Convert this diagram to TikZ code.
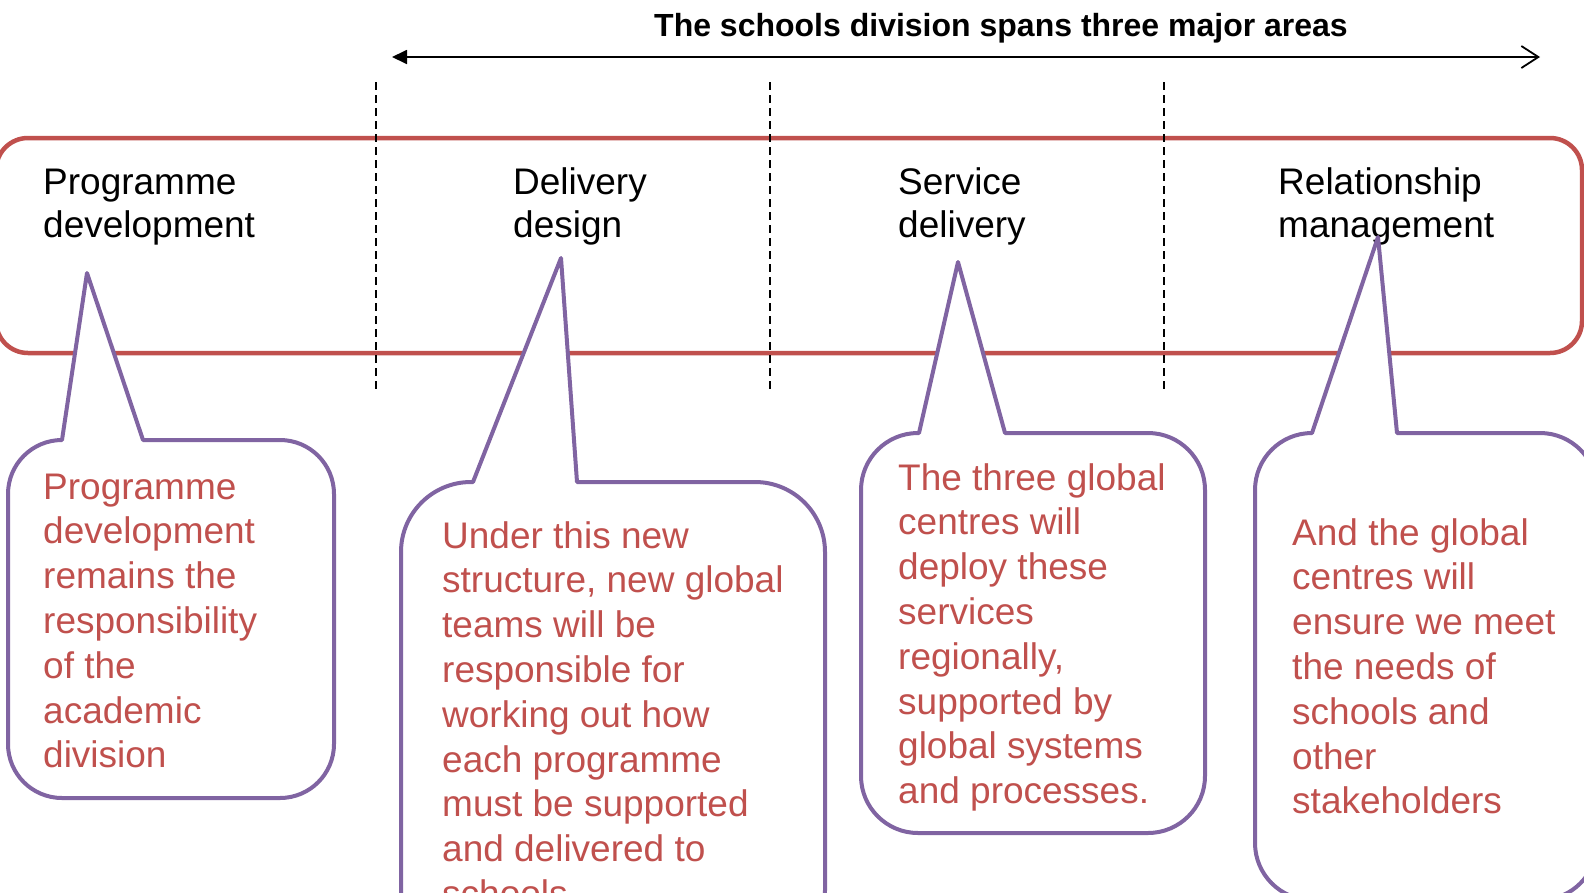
\documentclass[tikz,border=0pt]{standalone}
\usepackage{fontspec}
\setmainfont{Liberation Sans}
\usetikzlibrary{arrows.meta}
\definecolor{offred}{HTML}{C0504D}
\definecolor{offpurple}{HTML}{8064A2}
% x1 y1 x2 y2 r  baseleft tipx tipy baseright
\newcommand\mycallout[9]{%
  \filldraw[callout] (#1,{#2+#5}) arc[start angle=180,end angle=270,radius=#5]
    -- (#6,#2) -- (#7,#8) -- (#9,#2) -- ({#3-#5},#2)
    arc[start angle=270,end angle=360,radius=#5]
    -- (#3,{#4-#5}) arc[start angle=0,end angle=90,radius=#5]
    -- ({#1+#5},#4) arc[start angle=90,end angle=180,radius=#5] -- cycle;}
\begin{document}
\begin{tikzpicture}[x=1pt,y=-1pt,
  redbox/.style={draw=offred,line width=4.5pt,rounded corners=32pt},
  dashline/.style={draw=black,line width=1.6pt,dash pattern=on 8pt off 5pt},
  callout/.style={draw=offpurple,fill=white,line width=4pt,line join=round},
  head/.style={anchor=base west,inner sep=0pt,align=left,text=black,
    font=\fontsize{37}{43}\selectfont},
  ctext/.style={anchor=base west,inner sep=0pt,align=left,text=offred,
    font=\fontsize{37}{44.8}\selectfont},
  ttl/.style={anchor=base,inner sep=0pt,font=\bfseries\fontsize{32}{38}\selectfont}]
\useasboundingbox (0,0) rectangle (1584,892);
\clip (0,0) rectangle (1584,892);
\fill[white] (0,0) rectangle (1584,892);
% band
\draw[redbox] (-4,138) rectangle (1582,353);
% dashed separators
\coordinate (d1t) at (376,82);  \coordinate (d1b) at (376,390);
\coordinate (d2t) at (770,82);  \coordinate (d2b) at (770,390);
\coordinate (d3t) at (1164,82); \coordinate (d3b) at (1164,390);
\draw[dashline] (d1t) -- (d1b);
\draw[dashline] (d2t) -- (d2b);
\draw[dashline] (d3t) -- (d3b);
% headers (anchor = baseline of the last line)
\node[head] (h1) at (43,237) {Programme\\development};
\node[head] (h2) at (513,237) {Delivery\\design};
\node[head] (h3) at (898,237) {Service\\delivery};
\node[head] (h4) at (1278,237) {Relationship\\management};
% callouts
\mycallout{8}{440}{334}{798}{54}{62}{87}{273}{143}
\mycallout{401}{482}{825}{960}{70}{473}{561}{258}{577}
\mycallout{861}{433}{1205}{833}{57}{919}{958}{262}{1005}
\mycallout{1255}{433}{1597}{900}{57}{1312}{1378}{237}{1397}
\node[ctext] (t1) at (43,767.8) {Programme\\development\\remains the\\responsibility\\of the\\academic\\division};
\node[ctext] (t2) at (442,906.4) {Under this new\\structure, new global\\teams will be\\responsible for\\working out how\\each programme\\must be supported\\and delivered to\\schools.};
\node[ctext] (t3) at (898,803.6) {The three global\\centres will\\deploy these\\services\\regionally,\\supported by\\global systems\\and processes.};
\node[ctext] (t4) at (1292,813.8) {And the global\\centres will\\ensure we meet\\the needs of\\schools and\\other\\stakeholders};
% top arrow and title
\coordinate (aL) at (392,57);
\coordinate (aR) at (1540,57);
\draw[line width=1.8pt,{Triangle[length=15pt,width=14pt]}-{Straight Barb[length=17pt,width=22pt]}] (aL) -- (aR);
\node[ttl] (title) at (1001,36) {The schools division spans three major areas};
\end{tikzpicture}
\end{document}
